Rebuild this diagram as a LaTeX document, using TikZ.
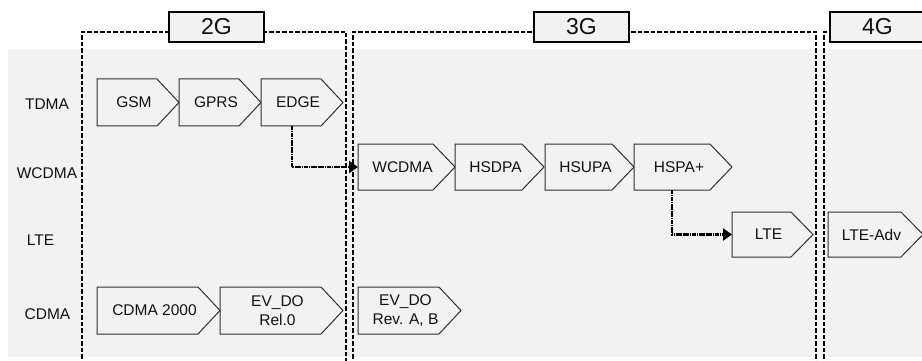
\documentclass[tikz,border=0pt]{standalone}
\usepackage{fontspec}
\setmainfont{Liberation Sans}
\usetikzlibrary{arrows.meta,calc}
\definecolor{bg}{HTML}{F2F2F2}
\definecolor{boxline}{HTML}{303030}
\definecolor{txt}{HTML}{111111}
\newcommand\pentbox[6]{%
  \node[pentnode, minimum width={#3-#2}, minimum height={#5-#4}] (#1) at ({(#2+#3)/2},{(#4+#5)/2}) {};
  \path[pentfill] (#1.north west) -- ([xshift=-22pt]#1.north east) -- (#1.east) -- ([xshift=-22pt]#1.south east) -- (#1.south west) -- cycle;
  \node[pentlabel] (#1-t) at ([xshift=-4pt]#1.center) {#6};
}
\begin{document}
\begin{tikzpicture}[x=1pt,y=-1pt,
  pentnode/.style={draw=none, inner sep=0pt, outer sep=0pt},
  pentfill/.style={fill=bg, draw=boxline, line width=1pt, line join=miter},
  pentlabel/.style={font=\fontsize{15.5}{19}\selectfont, align=center, text=txt, inner sep=0pt},
  rowlabel/.style={font=\fontsize{15.5}{19}\selectfont, text=txt, inner sep=0pt},
  genlabel/.style={fill=bg, draw=black, line width=1.1pt, minimum width=95pt, minimum height=30pt, inner sep=0pt, font=\fontsize{23}{27}\selectfont, text=txt},
  region/.style={draw=black, line width=1.5pt, dash pattern=on 4.5pt off 2pt},
  conn/.style={draw=black, line width=2.4pt, dash pattern=on 1.8pt off 0.5pt, -{Triangle[length=9pt,width=12pt]}}]
\useasboundingbox (0,0) rectangle (922,361);
% background band
\fill[bg] (8,49) rectangle (922,357);
% generation regions
\draw[region] (82,365) -- (82,32) -- (346,32) -- (346,365);
\draw[region] (353,365) -- (353,32) -- (816,32) -- (816,365);
\draw[region] (824,365) -- (824,32) -- (930,32);
% row labels
\node[rowlabel] (rTDMA) at (47,104) {TDMA};
\node[rowlabel] (rWCDMA) at (47,173) {WCDMA};
\node[rowlabel] (rLTE) at (40.5,240) {LTE};
\node[rowlabel] (rCDMA) at (47.5,314) {CDMA};
% TDMA row
\pentbox{gsm}{97}{179}{79}{126}{GSM}
\pentbox{gprs}{179}{261}{79}{126}{GPRS}
\pentbox{edgen}{261}{343}{79}{126}{EDGE}
% WCDMA row
\pentbox{wcdma}{358}{455}{144}{190}{WCDMA}
\pentbox{hsdpa}{455}{544}{144}{190}{HSDPA}
\pentbox{hsupa}{545}{634}{144}{190}{HSUPA}
\pentbox{hspa}{634}{732}{144}{190}{HSPA+}
% LTE row
\pentbox{lte}{732}{813}{212}{257}{LTE}
\pentbox{lteadv}{828}{923}{212}{257}{LTE-Adv}
% CDMA row
\pentbox{cdma}{97}{220}{287}{334}{CDMA 2000}
\pentbox{evdoa}{220}{343}{287}{334}{EV\_DO\\Rel.0}
\pentbox{evdob}{358}{461}{287}{334}{EV\_DO\\Rev. A, B}
% connectors
\draw[conn] ([xshift=-10pt]edgen.south) |- (wcdma.west);
\draw[conn] ([xshift=-11pt]hspa.south) |- (lte.west);
% generation labels
\node[genlabel] (g2) at (216.5,27) {2G};
\node[genlabel] (g3) at (581.5,27) {3G};
\node[genlabel] (g4) at (877.5,27) {4G};
\end{tikzpicture}
\end{document}
